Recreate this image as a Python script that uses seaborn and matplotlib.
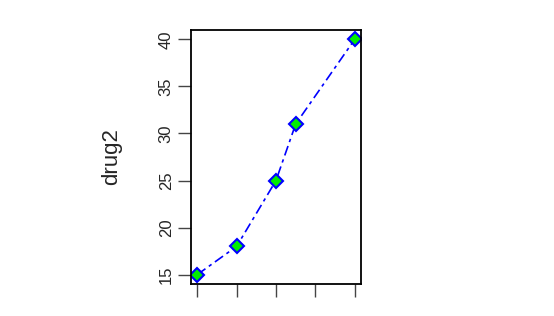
import matplotlib
matplotlib.use("Agg")
import matplotlib.pyplot as plt
import seaborn as sns
import pandas as pd

dose = [20, 30, 40, 45, 60]
drug2 = [15, 18, 25, 31, 40]
x_ticks = [20, 30, 40, 50, 60]
y_ticks = [15, 20, 25, 30, 35, 40]
y_label = "drug2"

sns.set_style("white")
plt.rcParams['font.family'] = ['Liberation Sans', 'DejaVu Sans']

df = pd.DataFrame({"dose": dose, "drug2": drug2})

fig = plt.figure(figsize=(5.54, 3.16), dpi=100)
ax = fig.add_axes([0.3448, 0.1013, 0.3068, 0.8038])

sns.lineplot(data=df, x="dose", y="drug2", ax=ax, color="blue",
             linestyle=(0, (6, 2.5, 2, 2.5)), linewidth=1.2,
             marker="D", markersize=7.5, markerfacecolor="#00ee00",
             markeredgecolor="blue", markeredgewidth=1.5)

ax.set_xlim(18.4, 61.6)
ax.set_ylim(14, 41)
ax.set_xticks(x_ticks)
ax.set_xticklabels([""] * len(x_ticks))
ax.set_yticks(y_ticks)
ax.set_yticklabels([str(v) for v in y_ticks], rotation=90, va="center", fontsize=12)
ax.tick_params(axis="both", direction="out", length=9.5, width=1, color="#444444",
               left=True, bottom=True, pad=3)
ax.set_xlabel("")
ax.set_ylabel(y_label, fontsize=16, labelpad=26)
for s in ax.spines.values():
    s.set_color("black")
    s.set_linewidth(1.3)

fig.savefig("out.png", dpi=100)
